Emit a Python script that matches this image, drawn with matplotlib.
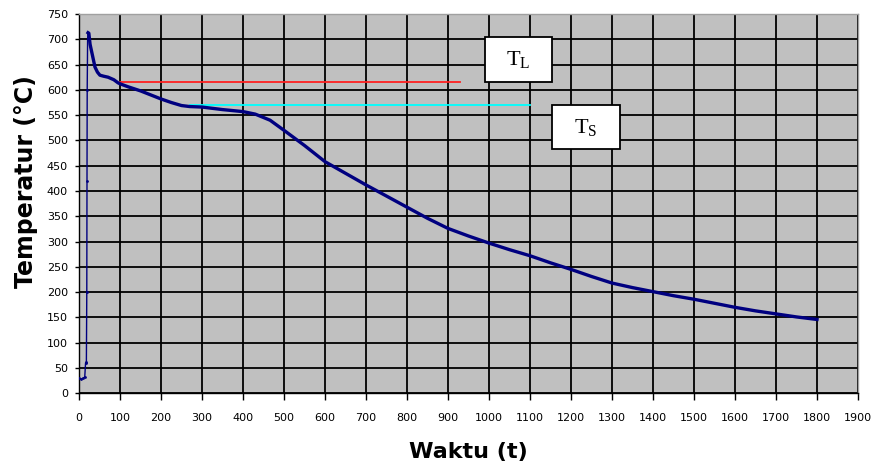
import matplotlib
matplotlib.use("Agg")
import matplotlib.pyplot as plt
from matplotlib.patches import Rectangle
import numpy as np

# ---- data ----
time_s = [0, 5, 10, 14, 16, 18, 19, 19.5, 20, 21, 22, 24, 27, 31, 35, 39, 45, 51, 60, 71,
          85, 95, 100, 120, 150, 175, 200, 225, 250, 270, 300, 350, 400, 430, 466, 500,
          550, 600, 650, 700, 750, 800, 850, 900, 950, 1000, 1050, 1100, 1150, 1200,
          1250, 1300, 1350, 1400, 1450, 1500, 1550, 1600, 1650, 1700, 1750, 1800]
temp_c = [30, 28, 30, 32, 60, 62, 200, 420, 600, 700, 713, 712, 690, 675, 660, 645, 635,
          629, 627, 625, 620, 614, 612, 606, 598, 590, 582, 575, 569, 567, 566, 561, 557,
          552, 540, 520, 490, 458, 435, 412, 390, 368, 346, 326, 311, 297, 284, 272, 258,
          245, 231, 218, 209, 201, 193, 186, 178, 170, 163, 157, 151, 146]

liquidus_temp = 615
liquidus_span = [100, 930]
solidus_temp = 570
solidus_span = [270, 1100]

x_ticks = list(range(0, 1901, 100))
y_ticks = list(range(0, 751, 50))

plt.rcParams['mathtext.fontset'] = 'custom'
plt.rcParams['mathtext.rm'] = 'Liberation Serif'
plt.rcParams['mathtext.it'] = 'Liberation Serif'

fig = plt.figure(figsize=(8.76, 4.72), dpi=100)
W, H = 876, 472
ax = fig.add_axes([79 / W, 1 - 393.3 / H, (858 - 79) / W, (393.3 - 14) / H])
ax.set_facecolor('#c0c0c0')

ax.set_xlim(0, 1900)
ax.set_ylim(0, 750)
ax.set_xticks(x_ticks)
ax.set_yticks(y_ticks)
ax.grid(True, color='black', linewidth=1.3)
ax.set_axisbelow(True)

ax.tick_params(axis='x', labelsize=8, length=5, width=1, pad=9, direction='out')
ax.tick_params(axis='y', labelsize=8, length=3, width=1, pad=5, direction='out')

for s in ['top', 'right']:
    ax.spines[s].set_color('#a0a0a0')
    ax.spines[s].set_linewidth(1)
for s in ['left', 'bottom']:
    ax.spines[s].set_color('black')
    ax.spines[s].set_linewidth(1)

# rise (thin) and cooling curve (thick)
peak = int(np.argmax(temp_c))
ax.plot(time_s[:peak + 1], temp_c[:peak + 1], color='#000080', linewidth=1.0,
        marker='.', markersize=2, zorder=4)
ax.plot(time_s[peak:], temp_c[peak:], color='#000080', linewidth=2.4, zorder=4)

ax.plot(liquidus_span, [liquidus_temp, liquidus_temp], color='#ff2020', linewidth=1.3, zorder=3)
ax.plot(solidus_span, [solidus_temp, solidus_temp], color='#00ffff', linewidth=1.3, zorder=3)

# label boxes
for (x0, x1, y0, y1, lab) in [(990, 1154, 615, 705, r'$\mathrm{T_L}$'),
                              (1154, 1320, 483, 570, r'$\mathrm{T_S}$')]:
    ax.add_patch(Rectangle((x0, y0), x1 - x0, y1 - y0, facecolor='white',
                           edgecolor='black', linewidth=1.3, zorder=5))
    ax.text((x0 + x1) / 2, (y0 + y1) / 2, lab, fontsize=16, ha='center', va='center',
            zorder=6)

ax.set_xlabel('Waktu (t)', fontsize=16, fontweight='bold')
ax.xaxis.set_label_coords(0.5, -0.128)
ax.set_ylabel('Temperatur (°C)', fontsize=17, fontweight='bold')
ax.yaxis.set_label_coords(-0.053, 0.557)

fig.savefig('out.png', dpi=100)
